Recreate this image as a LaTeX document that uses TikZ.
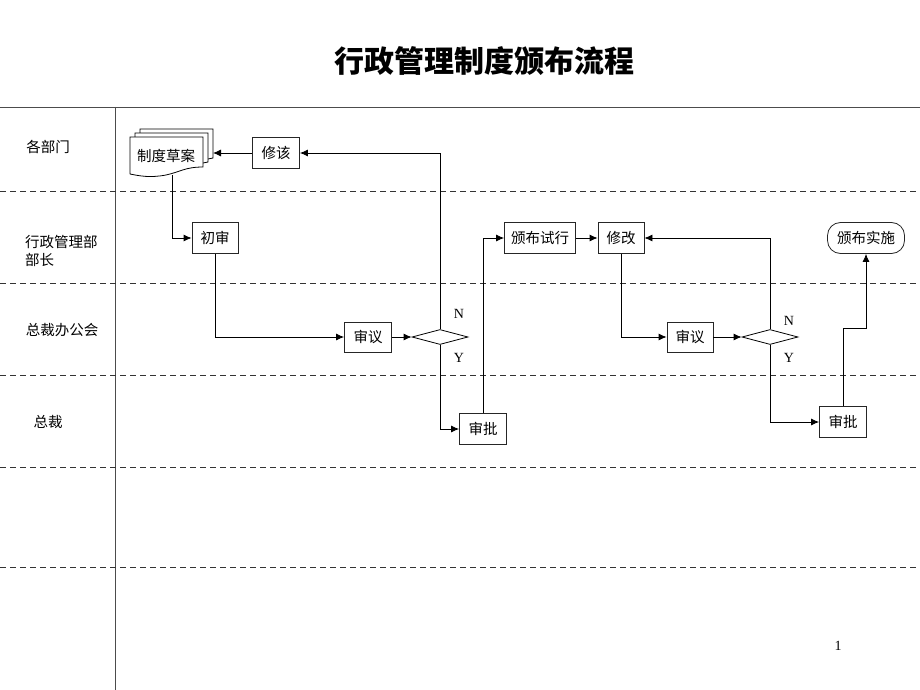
\documentclass[tikz,border=0pt]{standalone}
\usepackage{fontspec}
\setmainfont{Liberation Serif}
\newfontfamily\cjk{Noto Sans CJK SC}
\usetikzlibrary{arrows.meta,shapes.geometric}
\tikzset{
  box/.style={draw=black!85,line width=0.8pt,fill=white,inner sep=0pt,minimum height=31pt,font=\cjk\fontsize{14.5}{16}\selectfont},
  term/.style={box,rounded corners=13pt},
  dec/.style={draw=black,line width=0.8pt,diamond,inner sep=0pt,minimum width=56pt,minimum height=15pt},
  lane/.style={draw=black!80,line width=0.9pt,dash pattern=on 6pt off 4pt},
  conn/.style={draw=black,line width=0.8pt,-{Latex[length=8pt,width=7pt]}},
  lbl/.style={font=\cjk\fontsize{14.5}{17.5}\selectfont,inner sep=0pt},
  yn/.style={font=\fontsize{14}{16}\selectfont,inner sep=0pt},
  page/.style={draw=black,line width=0.8pt,fill=white}
}
\begin{document}
\begin{tikzpicture}[x=1pt,y=-1pt]
\useasboundingbox[fill=white] (0,0) rectangle (920,690);
% title
\node[font=\cjk\bfseries\fontsize{30}{33}\selectfont,inner sep=0pt] (title) at (484,61) {行政管理制度颁布流程};
% lanes
\draw[black!70,line width=0.8pt] (0,107) -- (920,107);
\draw[black!70,line width=1pt] (115,107) -- (115,690);
\foreach \yy in {191,283,375,467,567} \draw[lane] (0,\yy) -- (920,\yy);
\node[lbl] (l1) at (48,147) {各部门};
\node[lbl,align=left,anchor=west] (l2) at (25,251) {行政管理部\\部长};
\node[lbl] (l3) at (62,330) {总裁办公会};
\node[lbl] (l4) at (48,422) {总裁};
\node[yn] (pg) at (838,646) {1};
% multi-document
\draw[page] (140,160) -- (140,129) -- (213,129) -- (213,158) .. controls (211,158) .. (208,159) -- cycle;
\draw[page] (135,164) -- (135,133) -- (208,133) -- (208,162) .. controls (206,162) .. (203,163) -- cycle;
\draw[page] (130,174) -- (130,137) -- (203,137) -- (203,167) .. controls (185,167) and (180,172) .. (166,175) .. controls (150,178) and (140,176) .. (130,174);
\node[lbl] (doc) at (166,156) {制度草案};
\coordinate (docb) at (172,175);
\coordinate (docr) at (213,153);
% nodes
\node[box,minimum width=47pt] (xg) at (276,153) {修该};
\node[box,minimum width=46pt] (cs) at (215,238) {初审};
\node[box,minimum width=47pt,minimum height=30pt] (sy1) at (368,337) {审议};
\node[dec] (d1) at (440,337) {};
\node[yn] (n1) at (459,314) {N};
\node[yn] (y1) at (459,358) {Y};
\node[box,minimum width=47pt] (sp1) at (483,429) {审批};
\node[box,minimum width=71pt] (bs) at (540,238) {颁布试行};
\node[box,minimum width=46pt] (xga) at (621,238) {修改};
\node[box,minimum width=46pt,minimum height=30pt] (sy2) at (690,337) {审议};
\node[dec] (d2) at (770,337) {};
\node[yn] (n2) at (789,321) {N};
\node[yn] (y2) at (789,358) {Y};
\node[box,minimum width=47pt] (sp2) at (843,422) {审批};
\node[term,minimum width=77pt] (bss) at (866,238) {颁布实施};
% connectors
\draw[conn] (docb) |- (cs.west);
\draw[conn] (cs.south) |- (sy1.west);
\draw[conn] (sy1.east) -- (d1.west);
\draw[conn] (d1.north) |- (xg.east);
\draw[conn] (xg.west) -- (docr);
\draw[conn] (d1.south) |- (sp1.west);
\draw[conn] (sp1.north) |- (bs.west);
\draw[conn] (bs.east) -- (xga.west);
\draw[conn] (xga.south) |- (sy2.west);
\draw[conn] (sy2.east) -- (d2.west);
\draw[conn] (d2.north) |- (xga.east);
\draw[conn] (d2.south) |- (sp2.west);
\coordinate (jog) at (843,328);
\draw[conn] (sp2.north) -- (jog) -| (bss.south);
\end{tikzpicture}
\end{document}
